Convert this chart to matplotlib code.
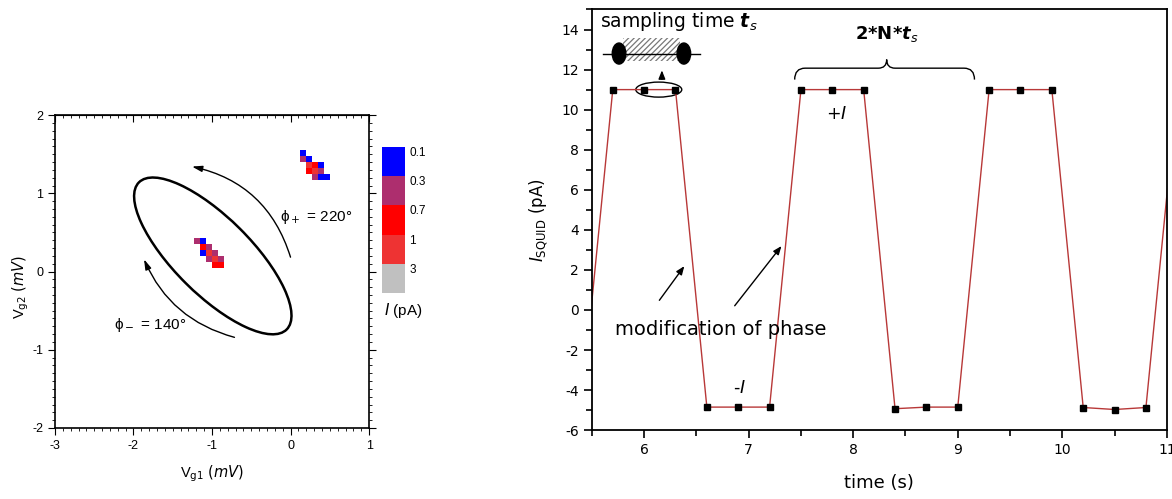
import numpy as np
import matplotlib
matplotlib.use("Agg")
import matplotlib.pyplot as plt
from matplotlib import patches
from matplotlib.path import Path
from matplotlib.colors import ListedColormap, BoundaryNorm
from matplotlib.cm import ScalarMappable
from matplotlib.ticker import MultipleLocator

plt.rcParams['axes.unicode_minus'] = False
plt.rcParams['hatch.linewidth'] = 0.9

# ---------------- data: left panel (current map) ----------------
# niveles de corriente (pA) y colores de la escala
level_bounds = [0.1, 0.3, 0.7, 1, 3, 10]
level_colors = ['#0000FF', '#AD2E6E', '#FF0000', '#EE3333', '#C0C0C0']
level_labels = ['0.1', '0.3', '0.7', '1', '3']

cell = 0.077  # tamaño de pixel del mapa (mV)
# celda superior derecha: origen (esquina sup. izq.), filas de (columna, corriente)
clusterA_origin = (0.121, 1.553)
clusterA_rows = [
    [(0, 0.2)],
    [(0, 0.5), (1, 0.2)],
    [(1, 2.0), (2, 0.85), (3, 0.2)],
    [(1, 0.85), (2, 2.0), (3, 0.5)],
    [(2, 0.5), (3, 0.2), (4, 0.2)],
]
clusterB_origin = (-1.229, 0.433)
clusterB_rows = [
    [(0, 0.5), (1, 0.2)],
    [(1, 0.85), (2, 0.5)],
    [(1, 0.2), (2, 2.0), (3, 0.5)],
    [(2, 0.5), (3, 2.0), (4, 0.5)],
    [(3, 0.85), (4, 0.85)],
]

# elipse del bombeo y flechas de fase
ell_center = (-0.99, 0.2)
ell_axes = (1.33, 0.49)
ell_angle = -45
arrow_plus = ((0.01, 0.15), (-1.29, 1.35))
arrow_minus = ((-0.68, -0.85), (-1.88, 0.19))

# ---------------- data: right panel (I_SQUID vs time) ----------------
time_s = [5.4, 5.7, 6.0, 6.3, 6.6, 6.9, 7.2, 7.5, 7.8, 8.1,
          8.4, 8.7, 9.0, 9.3, 9.6, 9.9, 10.2, 10.5, 10.8, 11.1]
i_squid = [-4.85, 11.0, 11.0, 11.0, -4.85, -4.85, -4.85, 11.0, 11.0, 11.0,
           -4.93, -4.85, -4.85, 11.0, 11.0, 11.0, -4.87, -4.97, -4.87, 11.0]

fig = plt.figure(figsize=(11.72, 4.99), dpi=100)
arial = ['Liberation Sans', 'DejaVu Sans']

# ================= left panel =================
ax1 = fig.add_axes([0.0469, 0.1423, 0.268, 0.627])
cmap = ListedColormap(level_colors)
norm = BoundaryNorm(level_bounds, cmap.N)

def draw_cluster(ax, origin, rows):
    x0, y0 = origin
    for r, row in enumerate(rows):
        for c, val in row:
            ax.add_patch(patches.Rectangle((x0 + c * cell, y0 - (r + 1) * cell), cell, cell,
                                           facecolor=cmap(norm(val)), edgecolor='none'))

draw_cluster(ax1, clusterA_origin, clusterA_rows)
draw_cluster(ax1, clusterB_origin, clusterB_rows)

ax1.add_patch(patches.Ellipse(ell_center, 2 * ell_axes[0], 2 * ell_axes[1], angle=ell_angle,
                              fill=False, lw=1.8, color='black'))
for (p0, p1), rad in [(arrow_plus, 0.3), (arrow_minus, -0.25)]:
    ax1.add_patch(patches.FancyArrowPatch(p0, p1, connectionstyle='arc3,rad=%s' % rad,
                                          arrowstyle='-|>,head_length=0.6,head_width=0.18',
                                          mutation_scale=10, lw=1.0, color='black'))

ax1.text(-0.14, 0.7, 'ϕ$_+$ = 220°', fontsize=11, family=arial, va='center')
ax1.text(-2.25, -0.68, 'ϕ$_-$ = 140°', fontsize=11, family=arial, va='center')

ax1.set_xlim(-3, 1)
ax1.set_ylim(-2, 2)
ax1.xaxis.set_major_locator(MultipleLocator(1))
ax1.yaxis.set_major_locator(MultipleLocator(1))
ax1.xaxis.set_minor_locator(MultipleLocator(0.1))
ax1.yaxis.set_minor_locator(MultipleLocator(0.1))
ax1.tick_params(which='both', direction='out', top=False, right=True, labelsize=9)
ax1.tick_params(which='major', length=5)
ax1.tick_params(which='minor', length=2.5)
for lab in ax1.get_xticklabels() + ax1.get_yticklabels():
    lab.set_family('Liberation Sans')
sec = ax1.secondary_xaxis('top')
sec.xaxis.set_major_locator(MultipleLocator(1))
sec.xaxis.set_minor_locator(MultipleLocator(0.1))
sec.tick_params(which='both', direction='in', labeltop=False)
sec.tick_params(which='major', length=5)
sec.tick_params(which='minor', length=2.5)
for sp in ax1.spines.values():
    sp.set_linewidth(1.2)

ax1.set_xlabel(r'V$_{\rm g1}$ $\it{(mV)}$', fontsize=10.5, family='Liberation Sans', labelpad=8)
ax1.set_ylabel(r'V$_{\rm g2}$ $\it{(mV)}$', fontsize=10.5, family='Liberation Sans')
ax1.yaxis.set_label_coords(-0.075, 0.45)

# escala de colores
cax = fig.add_axes([0.326, 0.4128, 0.0196, 0.2926])
cb = fig.colorbar(ScalarMappable(norm=norm, cmap=cmap), cax=cax, spacing='uniform',
                  ticks=level_bounds[:-1])
cb.ax.invert_yaxis()
cb.outline.set_visible(False)
cb.ax.minorticks_off()
cb.ax.set_yticks(level_bounds[:-1])
cb.ax.set_yticklabels(level_labels)
cb.ax.tick_params(which='both', length=0, labelsize=8.5, pad=3)
for lab in cb.ax.get_yticklabels():
    lab.set_family('Liberation Sans')
    lab.set_va('top')
fig.text(0.328, 0.378, r'$\it{I}$ (pA)', fontsize=11, family='Liberation Sans', va='center')

# ================= right panel =================
ax2 = fig.add_axes([0.505, 0.138, 0.4906, 0.843])
ax2.plot(time_s, i_squid, color='#B83838', lw=1.0, marker='s', ms=4.5,
         mfc='black', mec='black')
ax2.set_xlim(5.5, 11)
ax2.set_ylim(-6, 15)
ax2.xaxis.set_major_locator(MultipleLocator(1))
ax2.xaxis.set_minor_locator(MultipleLocator(0.5))
ax2.yaxis.set_major_locator(MultipleLocator(2))
ax2.yaxis.set_minor_locator(MultipleLocator(1))
ax2.tick_params(which='both', direction='out', labelsize=10, width=1.2)
ax2.tick_params(which='major', length=6)
ax2.tick_params(which='minor', length=4)
for sp in ax2.spines.values():
    sp.set_linewidth(1.3)
ax2.set_xlabel('time (s)', fontsize=13, labelpad=12)
ax2.set_ylabel(r'$\it{I}_{\rm SQUID}$ (pA)', fontsize=12, labelpad=8)

# esquema de "sampling time"
ax2.text(5.58, 14.4, r'sampling time $\mathbfit{t}_{s}$', fontsize=13.5, va='center')
ax2.add_patch(patches.Rectangle((5.80, 12.45), 0.54, 1.15, hatch='//////', fill=False,
                                edgecolor='#777777', lw=0))
ax2.plot([5.61, 6.53], [12.8, 12.8], color='black', lw=1)
for xc in (5.76, 6.38):
    ax2.add_patch(patches.Ellipse((xc, 12.8), 0.13, 1.05, color='black'))
ax2.add_patch(patches.Ellipse((6.14, 11.0), 0.44, 0.75, fill=False, lw=1, color='black'))
ax2.annotate('', xy=(6.17, 12.1), xytext=(6.17, 11.38),
             arrowprops=dict(arrowstyle='-|>,head_length=0.5,head_width=0.2', lw=1, color='black'))

# llave 2*N*t_s
bx0, bx1, by, bpk = 7.44, 9.16, 12.07, 8.32
verts = [(bx0, 11.5), (bx0, by), (bx0 + 0.1, by),
         (bpk - 0.08, by), (bpk - 0.08, by), (bpk, by), (bpk, 12.5),
         (bpk, by), (bpk + 0.08, by),
         (bx1 - 0.1, by), (bx1 - 0.1, by), (bx1, by), (bx1, 11.5)]
codes = [Path.MOVETO, Path.CURVE3, Path.CURVE3,
         Path.LINETO, Path.LINETO, Path.CURVE3, Path.CURVE3,
         Path.CURVE3, Path.CURVE3,
         Path.LINETO, Path.LINETO, Path.CURVE3, Path.CURVE3]
ax2.add_patch(patches.PathPatch(Path(verts, codes), fill=False, lw=1, color='black'))
ax2.text(8.32, 13.8, r'$\mathbf{2{*}N{*}}\mathbfit{t}_{s}$', fontsize=13, ha='center', va='center')

ax2.text(7.84, 9.8, r'+$\it{I}$', fontsize=12.5, ha='center', va='center')
ax2.text(6.91, -3.9, r'-$\it{I}$', fontsize=12.5, ha='center', va='center')
ax2.text(6.73, -1.0, 'modification of phase', fontsize=14, ha='center', va='center')
for p0, p1 in [((6.13, 0.37), (6.40, 2.3)), ((6.85, 0.1), (7.33, 3.3))]:
    ax2.annotate('', xy=p1, xytext=p0,
                 arrowprops=dict(arrowstyle='-|>,head_length=0.5,head_width=0.2', lw=1, color='black'))

fig.savefig('out.png', dpi=100)
